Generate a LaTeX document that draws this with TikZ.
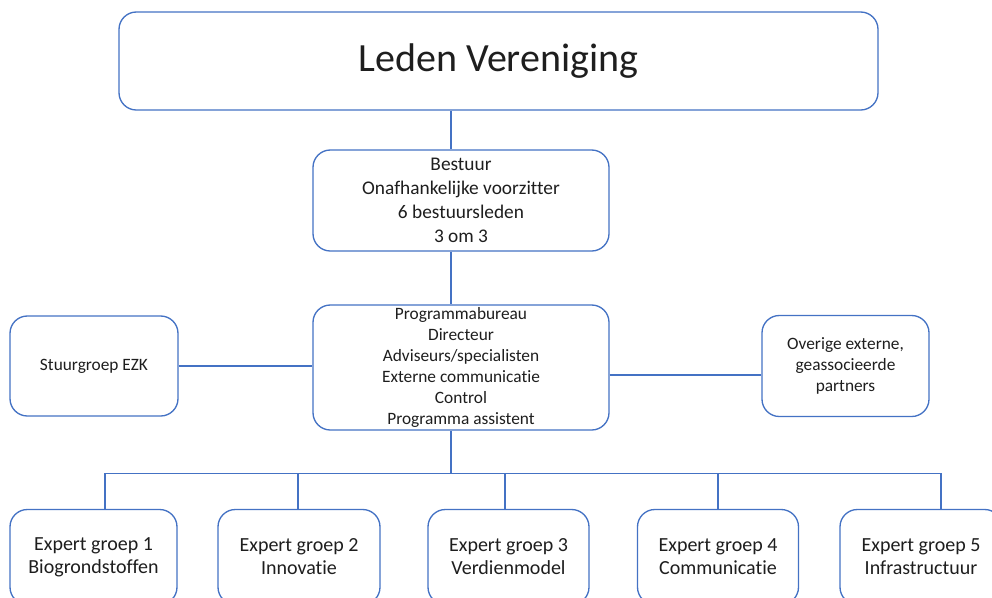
\documentclass[tikz,border=0pt]{standalone}
\usepackage{fontspec}
\setmainfont{Carlito}[Ligatures={NoCommon,NoContextual}]
\usetikzlibrary{calc}
\definecolor{lijn}{RGB}{68,114,196}
\definecolor{tekst}{RGB}{30,30,30}
\def\px{0.75pt}

\begin{document}
\begin{tikzpicture}[x=0.75pt,y=-0.75pt,
    blok/.style={draw=lijn,line width=1pt,rounded corners=13pt,fill=white,align=center,inner sep=0pt,text=tekst},
    verbinding/.style={draw=lijn,line width=1pt}]
    \clip (0,0) rectangle (992,597);
    \node[blok,minimum width=759*\px,minimum height=98*\px,font=\fontsize{30}{36}\selectfont] (leden) at (498.5,61) {\raisebox{2pt}{Leden Vereniging}};
    \node[blok,minimum width=296*\px,minimum height=101*\px,font=\fontsize{14.5}{18}\selectfont] (bestuur) at (461,200.5)
        {Bestuur\\Onafhankelijke voorzitter\\6 bestuursleden\\3 om 3};
    \node[blok,minimum width=296*\px,minimum height=125*\px,font=\fontsize{13}{15.8}\selectfont] (prog) at (461,367.5)
        {Programmabureau\\Directeur\\Adviseurs/specialisten\\Externe communicatie\\Control\\Programma assistent};
    \node[blok,minimum width=168*\px,minimum height=100*\px,font=\fontsize{13}{16}\selectfont] (stuur) at (94,366) {Stuurgroep EZK};
    \node[blok,minimum width=167*\px,minimum height=101*\px,font=\fontsize{13}{16}\selectfont] (overig) at (845.5,366)
        {Overige externe,\\geassocieerde\\partners};
    % expert groepen
    \foreach \n/\x/\w/\t in {1/93.5/167/Biogrondstoffen,2/299/162/Innovatie,3/508.5/161/Verdienmodel,
        4/718/161/Communicatie,5/921/162/Infrastructuur}
        \node[blok,minimum width=\w*\px,minimum height=95*\px,font=\fontsize{15}{17.3}\selectfont] (eg\n) at (\x,557)
            {Expert groep \n\\\t};
    % lijnen
    \draw[verbinding] ($(leden.south)+(-47.5,0)$) -- ($(bestuur.north)+(-10,0)$);
    \draw[verbinding] ($(bestuur.south)+(-10,0)$) -- ($(prog.north)+(-10,0)$);
    \draw[verbinding] (stuur.east) -- (stuur.east -| prog.west);
    \coordinate (r) at ($(prog.east)+(0,7.5)$);
    \draw[verbinding] (r) -- (r -| overig.west);
    \coordinate (bus) at ($(prog.south)+(-10,43)$);
    \draw[verbinding] ($(prog.south)+(-10,0)$) -- (bus);
    \foreach \n/\dx in {1/11.5,2/-1,3/-3.5,4/0,5/20}
        \coordinate (v\n) at ($(eg\n.north)+(\dx,0)$);
    \draw[verbinding] (v1) |- (bus) -| (v5);
    \foreach \n in {2,3,4}
        \draw[verbinding] (v\n) -- (v\n |- bus);
\end{tikzpicture}
\end{document}
